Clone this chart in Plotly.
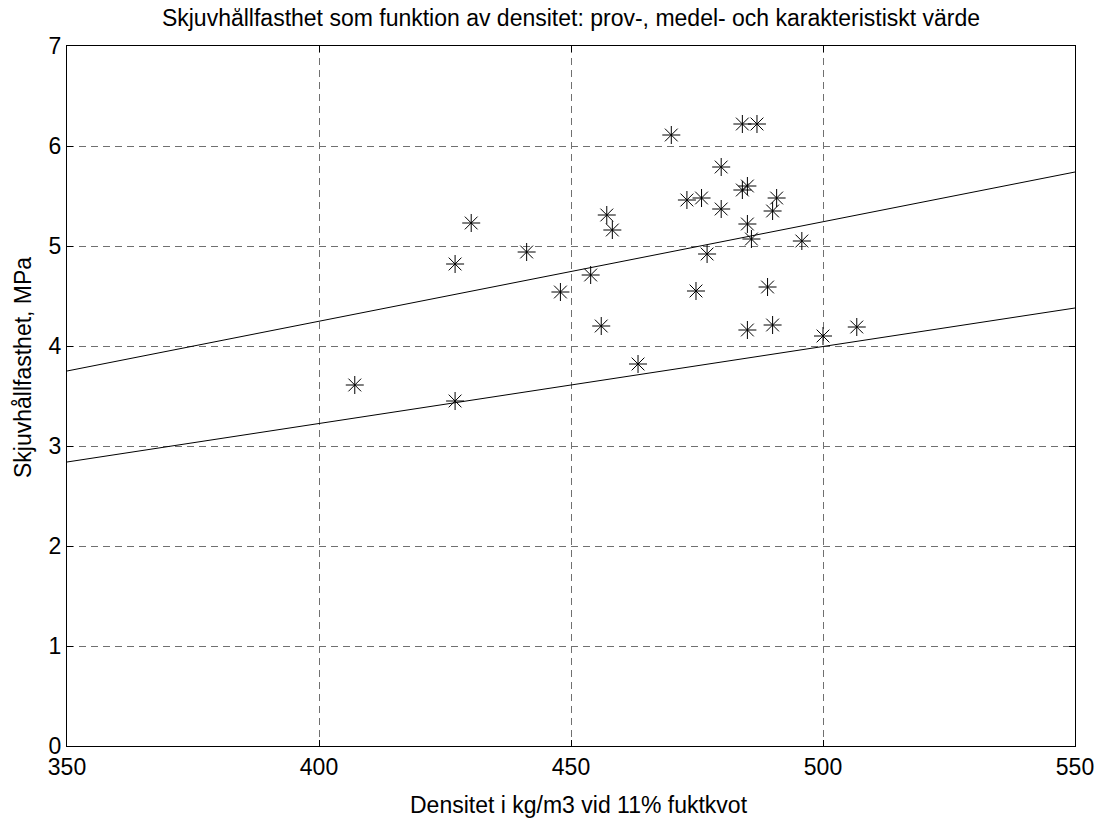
import plotly.graph_objects as go

# Data
densitet = [407.1, 427.0, 427.0, 430.2, 441.2, 447.9, 453.9, 456.0, 457.1, 458.2,
            463.3, 469.9, 473.0, 474.8, 475.9, 477.0, 479.8, 479.8, 484.0, 484.0,
            485.0, 485.0, 485.0, 485.8, 486.9, 489.0, 490.0, 490.0, 490.8, 495.8,
            500.0, 506.7]
skjuv = [3.61, 3.45, 4.82, 5.23, 4.94, 4.54, 4.71, 4.20, 5.31, 5.16,
         3.82, 6.11, 5.46, 4.55, 5.48, 4.92, 5.79, 5.37, 6.22, 5.56,
         5.60, 5.22, 4.16, 5.07, 6.22, 4.59, 5.35, 4.21, 5.48, 5.05,
         4.10, 4.19]

line_x = [350, 550]
medel_y = [3.75, 5.74]
karakt_y = [2.84, 4.38]

x_ticks = [350, 400, 450, 500, 550]
y_ticks = [0, 1, 2, 3, 4, 5, 6, 7]

title_text = "Skjuvhållfasthet som funktion av densitet: prov-, medel- och karakteristiskt värde"
xlabel_text = "Densitet i kg/m3 vid 11% fuktkvot"
ylabel_text = "Skjuvhållfasthet, MPa"

fig = go.Figure()
fig.add_trace(go.Scatter(x=line_x, y=medel_y, mode="lines",
                         line=dict(color="black", width=1), name="medel"))
fig.add_trace(go.Scatter(x=line_x, y=karakt_y, mode="lines",
                         line=dict(color="black", width=1), name="karakteristisk"))
fig.add_trace(go.Scatter(x=densitet, y=skjuv, mode="markers",
                         marker=dict(symbol="asterisk-open", size=15,
                                     line=dict(color="black", width=1), color="black"),
                         name="prov"))

axis_common = dict(
    showgrid=True, gridcolor="#707070", griddash="7px,5px", gridwidth=1,
    showline=True, linecolor="black", linewidth=1, mirror="ticks",
    ticks="inside", ticklen=6, tickcolor="black", zeroline=False,
    tickfont=dict(size=23, color="black"),
)

W, H = 1098, 812  # page body has an 8px margin
fig.update_layout(
    width=W, height=H,
    margin=dict(l=59, r=27, t=38, b=74),
    paper_bgcolor="white", plot_bgcolor="white",
    showlegend=False,
    font=dict(family="Liberation Sans, Arial, sans-serif", size=23, color="black"),
    title=dict(text=title_text, x=0.5, xref="paper", y=1 - 10 / H, yref="container",
               yanchor="middle", font=dict(size=23)),
    xaxis=dict(range=[350, 550], tickvals=x_ticks, **axis_common),
    yaxis=dict(range=[0, 7], tickvals=y_ticks, **axis_common),
    annotations=[
        dict(text=xlabel_text, xref="paper", yref="paper", x=0.5, y=0,
             xanchor="center", yanchor="middle", xshift=8, yshift=-59,
             showarrow=False, font=dict(size=23)),
        dict(text=ylabel_text, xref="paper", yref="paper", x=0, y=0.54,
             xanchor="center", yanchor="middle", xshift=-44, textangle=-90,
             showarrow=False, font=dict(size=23)),
    ],
)

fig.write_html("out.html")
